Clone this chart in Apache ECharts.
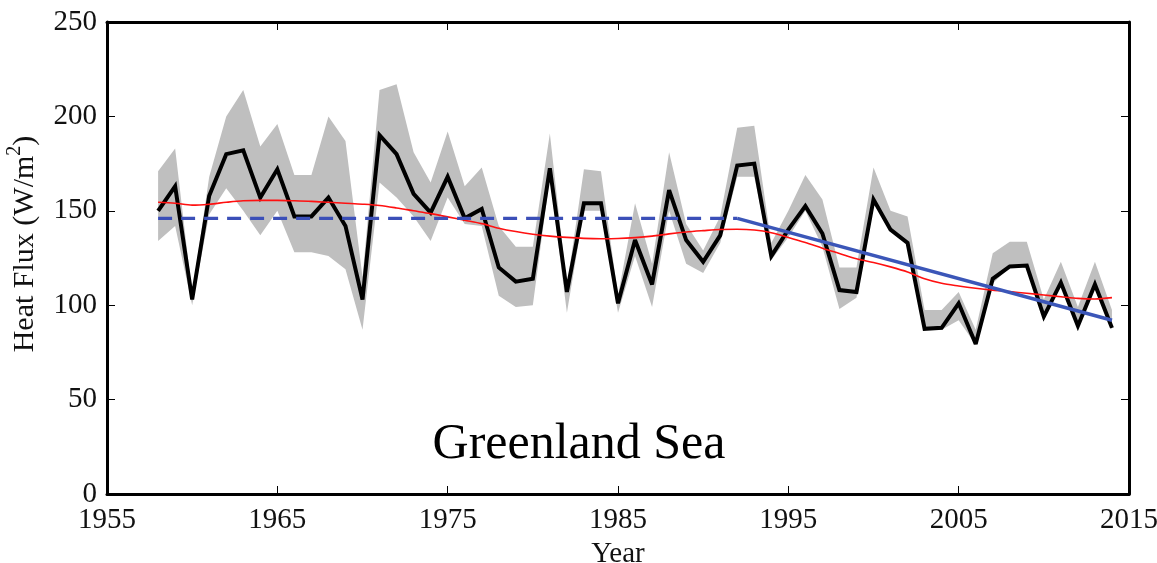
<!DOCTYPE html>
<html>
<head>
<meta charset="utf-8">
<script src="https://cdn.jsdelivr.net/npm/echarts@6/dist/echarts.min.js"></script>
<style>
html,body{margin:0;padding:0;background:#fff;}
#chart{width:1157px;height:563px;}
</style>
</head>
<body>
<div id="chart"></div>
<script>
// ---- data ----
const years = [1958,1959,1960,1961,1962,1963,1964,1965,1966,1967,1968,1969,1970,1971,1972,1973,1974,1975,1976,1977,1978,1979,1980,1981,1982,1983,1984,1985,1986,1987,1988,1989,1990,1991,1992,1993,1994,1995,1996,1997,1998,1999,2000,2001,2002,2003,2004,2005,2006,2007,2008,2009,2010,2011,2012,2013,2014];
const heatFlux = [150,163,103,158,180,182,157,172,147,147,157,142,103,190,180,159,149,168,146,151,120,112.5,114,172.5,107,154,154,101,134.5,111,161,134.5,123,137,174,175,126,140,152.5,138,108,107,156,140,133,87.5,88,101,79.5,114,120.5,121,94,112,89,111,88];
const upperBound = [171,183,106,168,200,214,184,196,169,169,200,187,115,214,217,181,165,192,163,173,142,131,131,191,110,172,171,105,154,122,181,143,129,147,194,195,133,150,169,156,120,120,173,150,147,97.5,97.5,107,87,127.5,133.6,133.6,103,123,99,123,97.5];
const lowerBound = [134,142,100,148,162,150,137,150,128,128,126,119,87,165,157,147,134,157,143,142,105,99,100,168,96,150,150,96,126,99,150,122,117,133,168,168,124,136,150,131,98,104,154,139,132,87,87,92,79,111.6,120,120,93,110,88.6,110,87];
const smoothFit = [154.5,154,153,153.5,154.5,155.3,155.5,155.5,155.3,155,154.5,154,153.5,152.8,151.5,150,148.5,146.8,145,143.2,140.8,139,137.6,136.6,135.9,135.4,135.2,135.3,135.8,136.6,137.8,138.8,139.5,140.1,140.2,139.8,138.4,135.9,133.2,130.2,127.4,124.6,122.6,120.3,117.6,114,111.6,110.2,109,108,107.2,106.3,105.4,104.5,103.6,103.3,104];
const trendFlat = [[1958,146],[1992,146]];
const trendDecline = [[1992,146],[2014,92]];
const xTickLabels = ['1955','1965','1975','1985','1995','2005','2015'];
const yTickValues = [0,50,100,150,200,250];
const xMin = 1955, xMax = 2015;

// ---- build category axis + aligned series ----
const cats = [];
for (let y = xMin; y <= xMax; y++) cats.push(String(y));
function align(vals){
  const m = {}; years.forEach((y,i)=>{ m[y] = vals[i]; });
  return cats.map(c => (m[+c] === undefined ? null : m[+c]));
}
const blackData = align(heatFlux);
const redData = align(smoothFit);
const lowData = align(lowerBound);
const widthData = align(upperBound.map((u,i)=>+(u-lowerBound[i]).toFixed(2)));
const pairs = arr => arr.map(p => [String(p[0]), p[1]]);
const showTick = (idx) => xTickLabels.indexOf(cats[idx]) >= 0;

const FONT = "'Liberation Serif','Times New Roman',serif";
const chart = echarts.init(document.getElementById('chart'), null, {renderer:'canvas'});
const axisLineStyle = {color:'#000', width:3};
chart.setOption({
  animation:false,
  backgroundColor:'#fff',
  grid:{left:107,right:28,top:22,bottom:69,containLabel:false,outerBoundsMode:'none'},
  xAxis:[{
    type:'category', data:cats, boundaryGap:false, position:'bottom',
    axisLine:{show:true,onZero:false,lineStyle:axisLineStyle},
    axisTick:{show:true,inside:true,length:8,interval:(i)=>showTick(i),lineStyle:{color:'#000',width:1}},
    axisLabel:{show:true,interval:(i)=>showTick(i),fontFamily:FONT,fontSize:29,color:'#111',margin:12},
    splitLine:{show:false},
    name:'Year', nameLocation:'middle', nameGap:43,
    nameTextStyle:{fontFamily:FONT,fontSize:29,color:'#111'}
  },{
    type:'category', data:cats, boundaryGap:false, position:'top',
    axisLine:{show:true,onZero:false,lineStyle:axisLineStyle},
    axisTick:{show:true,inside:true,length:8,interval:(i)=>showTick(i),lineStyle:{color:'#000',width:1}},
    axisLabel:{show:false}, splitLine:{show:false}
  }],
  yAxis:[{
    type:'value', min:0, max:250, interval:50, position:'left',
    axisLine:{show:true,onZero:false,lineStyle:axisLineStyle},
    axisTick:{show:true,inside:true,length:8,lineStyle:{color:'#000',width:1}},
    axisLabel:{fontFamily:FONT,fontSize:29,color:'#111',margin:10,
      formatter:(v)=> yTickValues.indexOf(v)>=0 ? String(v) : ''},
    splitLine:{show:false}
  },{
    type:'value', min:0, max:250, interval:50, position:'right',
    axisLine:{show:true,onZero:false,lineStyle:axisLineStyle},
    axisTick:{show:true,inside:true,length:8,lineStyle:{color:'#000',width:1}},
    axisLabel:{show:false}, splitLine:{show:false}
  }],
  graphic:[{
    type:'text', x:579, y:445, z:100,
    style:{text:'Greenland Sea', x:0, y:0, fill:'#000', font:"50px "+FONT, textAlign:'center', textVerticalAlign:'middle'}
  },{
    type:'text', x:25, y:244, rotation:Math.PI/2, z:100,
    style:{text:'Heat Flux (W/m{sup|2})', fill:'#111', font:"30px "+FONT, textAlign:'center', textVerticalAlign:'middle',
      lineHeight:40,
      rich:{sup:{fontSize:20, fontFamily:FONT, verticalAlign:'top', lineHeight:40, fill:'#111'}}}
  }],
  series:[{
    name:'lower', type:'line', data:lowData, stack:'band', symbol:'none',
    lineStyle:{opacity:0}, areaStyle:{opacity:0}, z:1, silent:true
  },{
    name:'spread', type:'line', data:widthData, stack:'band', symbol:'none',
    lineStyle:{opacity:0}, areaStyle:{color:'#bfbfbf',opacity:1}, z:1, silent:true
  },{
    name:'Heat flux', type:'line', data:blackData, symbol:'none',
    lineStyle:{color:'#000',width:4,join:'miter',miterLimit:3}, z:3
  },{
    name:'Smooth', type:'line', data:redData, symbol:'none', smooth:0.3,
    lineStyle:{color:'#ff1010',width:1.6}, z:4
  },{
    name:'Mean', type:'line', data:pairs(trendFlat), symbol:'none',
    lineStyle:{color:'#3b4fb8',width:3.2,type:[14,9]}, z:5
  },{
    name:'Trend', type:'line', data:pairs(trendDecline), symbol:'none',
    lineStyle:{color:'#3b56b8',width:3.5}, z:5
  }]
});
</script>
</body>
</html>
